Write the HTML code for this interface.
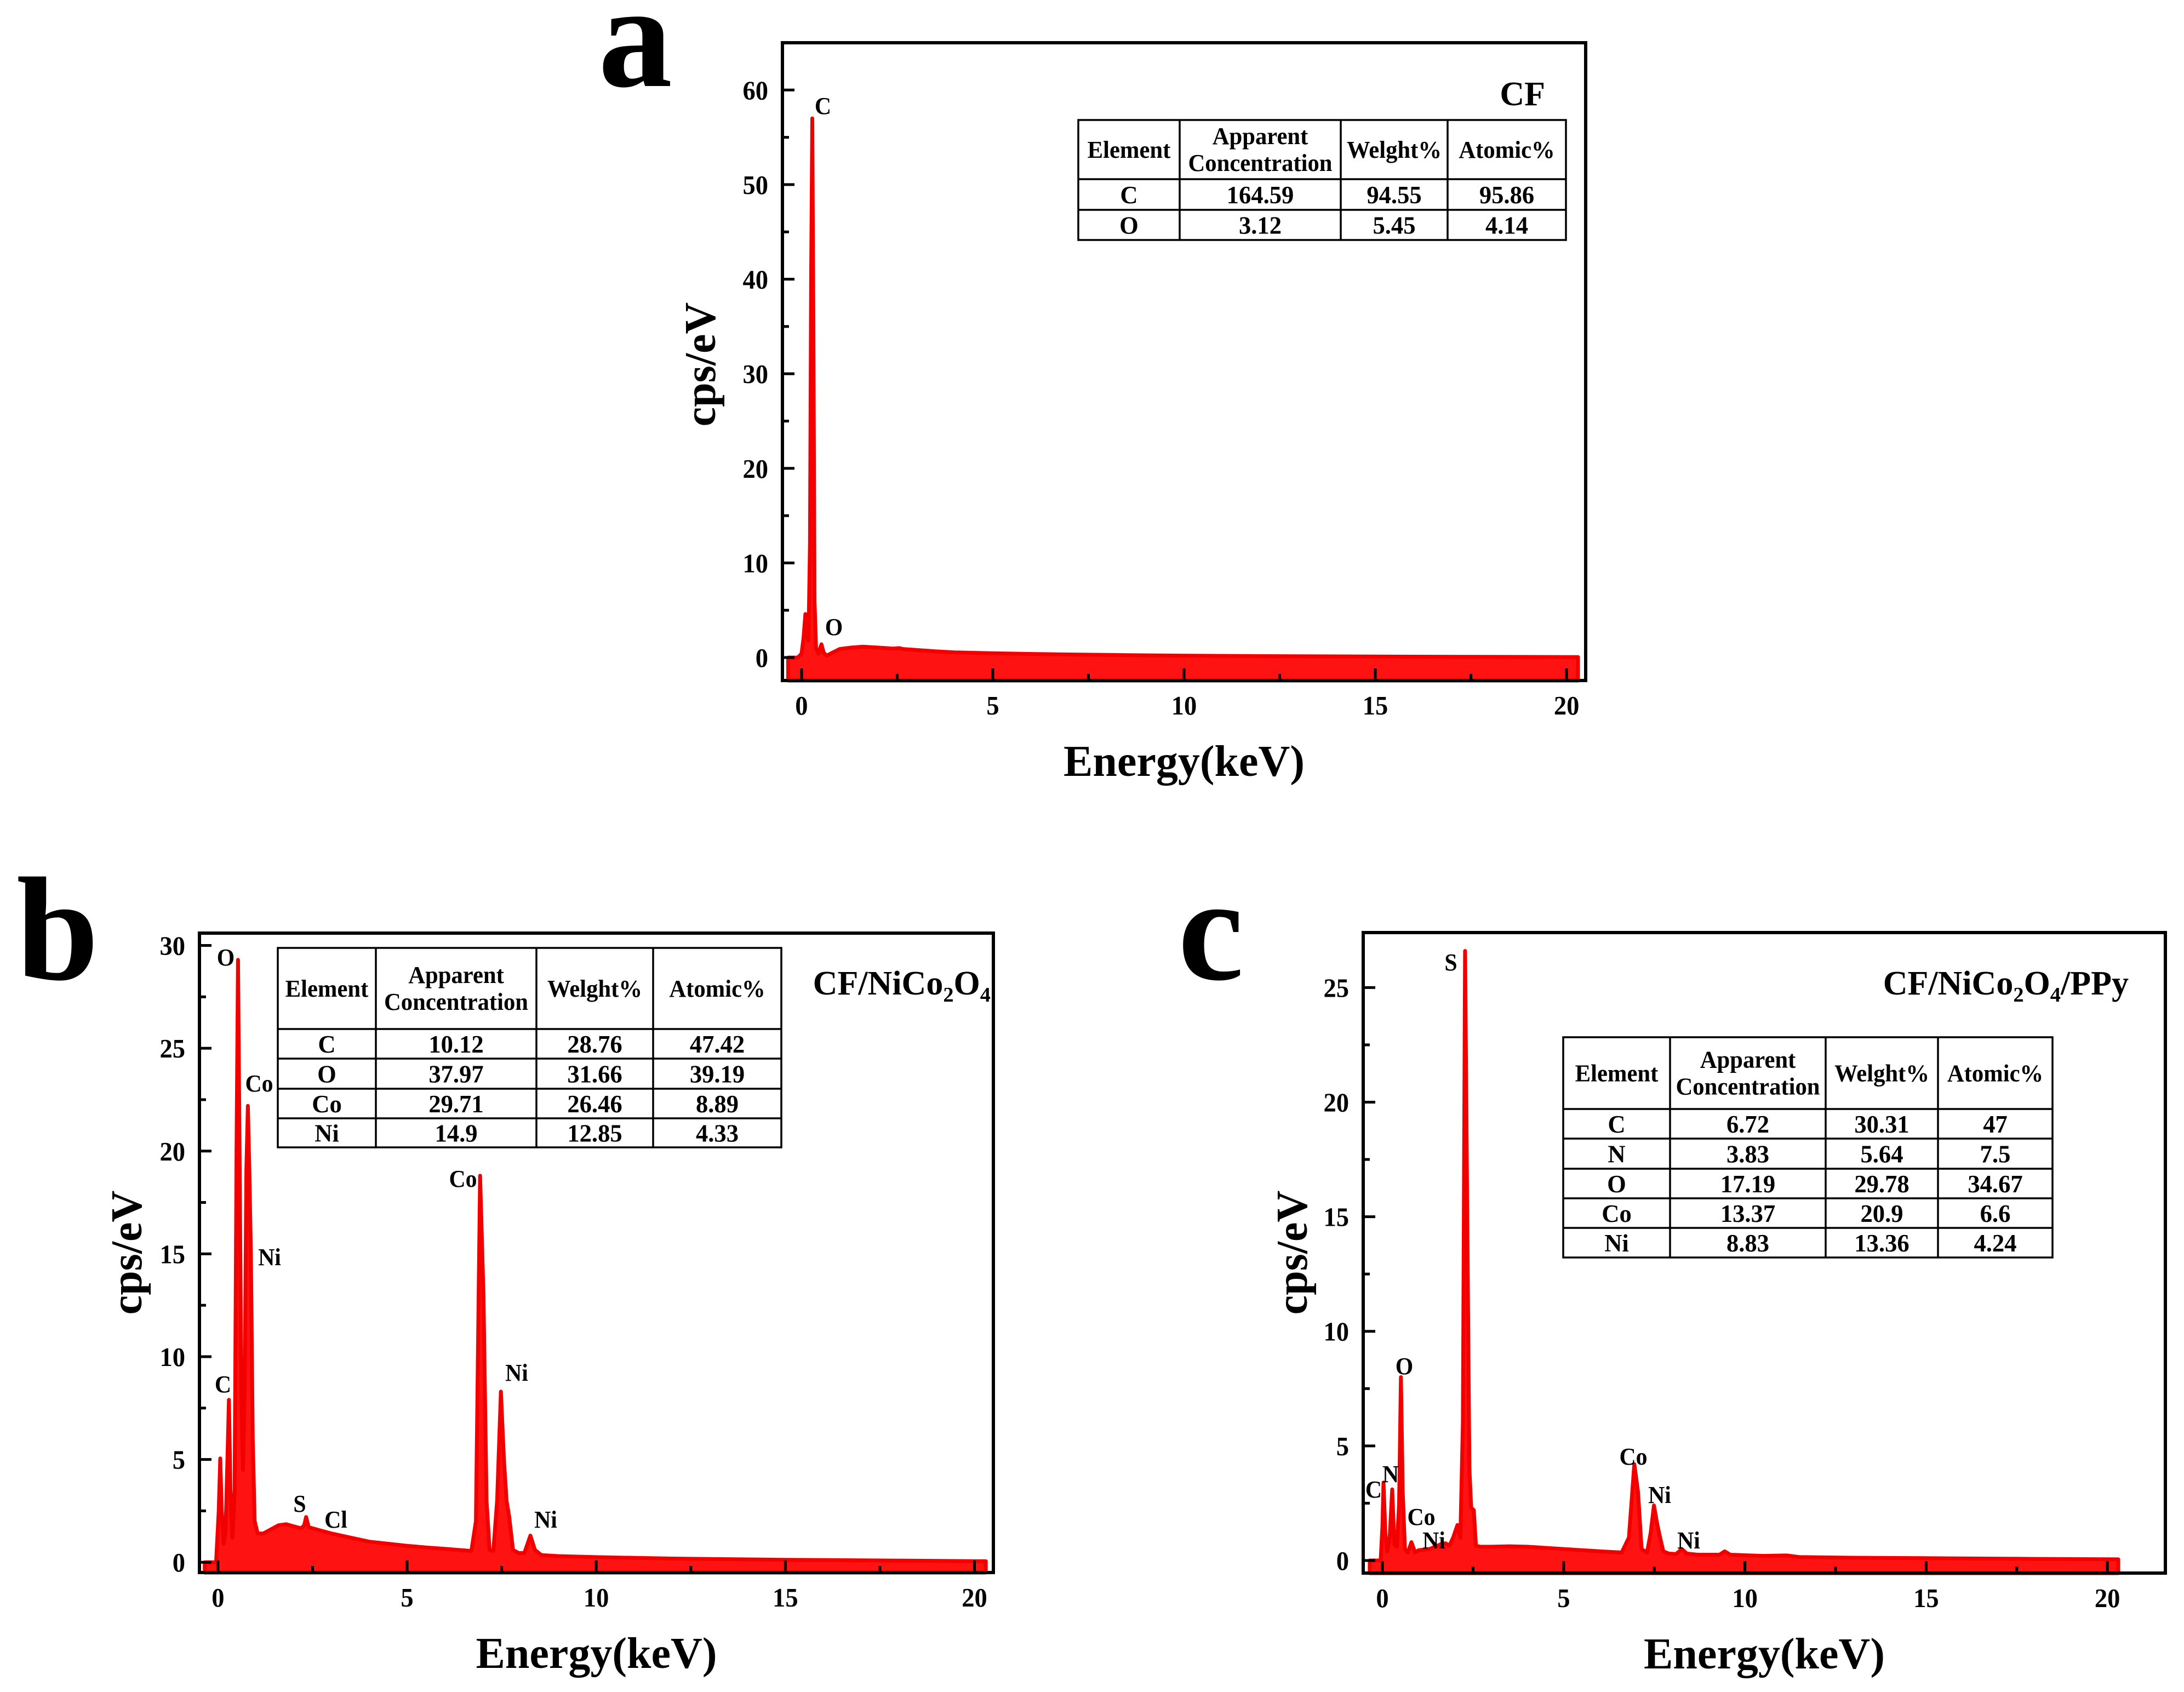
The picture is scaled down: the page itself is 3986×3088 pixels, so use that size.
<!DOCTYPE html>
<html><head><meta charset="utf-8"><title>EDS spectra</title>
<style>
html,body{margin:0;padding:0;background:#fff;}
svg{display:block;}
text{font-family:"Liberation Serif","Times New Roman",serif;font-weight:bold;fill:#000;}
</style></head>
<body>
<svg id="fig" xmlns="http://www.w3.org/2000/svg" width="3986" height="3088" viewBox="0 0 3986 3088"></svg>
<script>
// ---------- Panel a data (CF) ----------
const aEnergy = [-0.35,-0.1,0.0,0.05,0.1,0.14,0.18,0.22,0.25,0.28,0.31,0.34,0.38,0.44,0.52,0.58,0.66,0.8,1.0,1.3,1.6,2.0,2.4,2.55,2.65,3.0,3.5,4.0,5.0,6.0,7.0,8.5,10.0,12.0,15.0,17.5,20.3];
const aCounts = [0,0,0.4,2.0,4.6,2.2,1.8,12,40,57,35,6,1.0,0.4,1.4,0.5,0.2,0.5,0.9,1.05,1.15,1.05,0.95,1.0,0.9,0.8,0.65,0.55,0.45,0.38,0.32,0.25,0.2,0.15,0.1,0.07,0.05];
const aYTicks = [0,10,20,30,40,50,60];
const aXTicks = [0,5,10,15,20];
const aTableHead = ["Element","Apparent|Concentration","Welght%","Atomic%"];
const aTableRows = [["C","164.59","94.55","95.86"],["O","3.12","5.45","4.14"]];

// ---------- Panel b data (CF/NiCo2O4) ----------
const bEnergy = [-0.35,-0.05,0.02,0.06,0.1,0.15,0.2,0.25,0.29,0.33,0.38,0.44,0.49,0.53,0.57,0.62,0.66,0.71,0.75,0.79,0.83,0.87,0.92,0.97,1.05,1.2,1.4,1.6,1.8,2.0,2.2,2.28,2.33,2.4,2.5,2.7,3.0,3.5,4.0,4.5,5.0,5.5,6.0,6.5,6.7,6.82,6.93,7.02,7.1,7.18,7.28,7.38,7.48,7.56,7.63,7.7,7.8,7.95,8.1,8.26,8.38,8.55,9.0,10.0,12.0,15.0,18.0,20.3];
const bCounts = [0,0,2.5,5.05,2.5,0.9,1.5,5,7.9,3.5,1.2,3.5,20,29.3,20,8,4.5,9,19,22.2,19,15,6,2.0,1.4,1.4,1.6,1.8,1.85,1.75,1.65,1.8,2.2,1.7,1.65,1.55,1.4,1.2,1.0,0.9,0.8,0.72,0.65,0.58,0.55,2.0,18.8,13,3,0.6,0.55,3,8.3,5,3,2.2,0.6,0.45,0.45,1.3,0.6,0.35,0.3,0.25,0.18,0.12,0.08,0.05];
const bYTicks = [0,5,10,15,20,25,30];
const bXTicks = [0,5,10,15,20];
const bTableHead = ["Element","Apparent|Concentration","Welght%","Atomic%"];
const bTableRows = [["C","10.12","28.76","47.42"],["O","37.97","31.66","39.19"],["Co","29.71","26.46","8.89"],["Ni","14.9","12.85","4.33"]];

// ---------- Panel c data (CF/NiCo2O4/PPy) ----------
const cEnergy = [-0.35,-0.05,0.0,0.03,0.08,0.13,0.2,0.27,0.33,0.4,0.46,0.51,0.56,0.62,0.7,0.8,0.9,1.0,1.3,1.6,1.74,1.85,1.95,2.07,2.15,2.22,2.28,2.34,2.4,2.45,2.52,2.58,2.7,3.0,3.5,4.0,5.0,6.0,6.6,6.8,6.95,7.05,7.15,7.3,7.4,7.49,7.58,7.66,7.75,7.9,8.1,8.26,8.4,8.7,9.3,9.44,9.6,10.5,11.16,11.5,13.0,15.0,18.0,20.3];
const cCounts = [0,0,1.5,3.4,1.2,0.4,1.0,3.1,0.7,0.6,2.5,8.0,3.0,0.5,0.35,0.8,0.35,0.45,0.5,0.7,0.75,0.65,1.0,1.55,1.0,6,26.6,15,4,2.3,2.2,0.65,0.6,0.6,0.62,0.6,0.5,0.4,0.35,1.0,4.2,3.0,0.5,0.35,1.2,2.4,1.6,1.0,0.4,0.3,0.28,0.5,0.3,0.25,0.25,0.4,0.25,0.2,0.22,0.15,0.12,0.1,0.07,0.05];
const cYTicks = [0,5,10,15,20,25];
const cXTicks = [0,5,10,15,20];
const cTableHead = ["Element","Apparent|Concentration","Welght%","Atomic%"];
const cTableRows = [["C","6.72","30.31","47"],["N","3.83","5.64","7.5"],["O","17.19","29.78","34.67"],["Co","13.37","20.9","6.6"],["Ni","8.83","13.36","4.24"]];

const NS = "http://www.w3.org/2000/svg";
const svg = document.getElementById('fig');

function mk(tag, attrs, parent) {
  const e = document.createElementNS(NS, tag);
  for (const k in attrs) e.setAttribute(k, attrs[k]);
  (parent || svg).appendChild(e);
  return e;
}
function txt(str, x, y, size, anchor, parent, sx) {
  const g = mk('g', {transform: 'translate(' + x + ',' + y + ') scale(' + (sx || 1) + ',1)'}, parent);
  const t = mk('text', {x: 0, y: 0, 'font-size': size, 'text-anchor': anchor || 'middle'}, g);
  t.textContent = str;
  return t;
}

function drawPanel(P) {
  const g = mk('g', {});
  
  
  const X = v => P.L + (v - P.xmin) / (P.xmax - P.xmin) * (P.R - P.L);
  const Y = v => P.B - (v - P.ymin) / (P.ymax - P.ymin) * (P.B - P.T);

  let d = 'M' + X(P.energy[0]).toFixed(1) + ',' + P.B;
  for (let i = 0; i < P.energy.length; i++) d += ' L' + X(P.energy[i]).toFixed(1) + ',' + Y(P.counts[i]).toFixed(1);
  d += ' L' + X(P.energy[P.energy.length - 1]).toFixed(1) + ',' + P.B + ' Z';
  const area = mk('path', {d: d, fill: '#ff1212', stroke: '#f20000', 'stroke-width': 7, 'stroke-linejoin': 'round'}, g);
  
  

  const tk = mk('g', {stroke: '#000', 'stroke-width': 5}, g);
  
  
  P.yticks.forEach(v => {
    mk('line', {x1: P.L, x2: P.L + 22, y1: Y(v), y2: Y(v)}, tk);
    const m = v + (P.yticks[1] - P.yticks[0]) / 2;
    if (m < P.ymax) mk('line', {x1: P.L, x2: P.L + 12, y1: Y(m), y2: Y(m)}, tk);
  });
  P.xticks.forEach(v => {
    mk('line', {x1: X(v), x2: X(v), y1: P.B, y2: P.B - 22}, tk);
    const m = v + (P.xticks[1] - P.xticks[0]) / 2;
    if (m < P.xmax) mk('line', {x1: X(m), x2: X(m), y1: P.B, y2: P.B - 12}, tk);
  });

  const fr = mk('rect', {x: P.L, y: P.T, width: P.R - P.L, height: P.B - P.T, fill: 'none', stroke: '#000', 'stroke-width': 6}, g);
  
  

  P.yticks.forEach(v => {
    const t = txt(String(v), P.L - 26, Y(v) + 17, 49, 'end', g, 0.95);
    
    
  });
  P.xticks.forEach(v => {
    const t = txt(String(v), X(v), P.B + 62, 49, 'middle', g, 0.95);
    
    
  });

  const xt = txt('Energy(keV)', (P.L + P.R) / 2, P.B + 174, 80, 'middle', g, 1.0);
  
  
  const yg = mk('g', {transform: 'translate(' + P.ytx + ',' + P.yty + ') rotate(-90)'}, g);
  const yt = mk('text', {x: 0, y: 0, 'font-size': 80, 'text-anchor': 'middle'}, yg);
  yt.textContent = 'cps/eV';
  
  

  const pl = txt(P.letter, P.lx, P.ly, 270, 'start', g, 1);
  
  

  const st = mk('text', {x: P.tx, y: P.ty, 'font-size': P.tsize, 'text-anchor': 'end'}, g);
  
  
  P.title.forEach(part => {
    const s = mk('tspan', part[1] ? {'font-size': P.tsize * 0.62, dy: 13} : {dy: part[2] || 0}, st);
    s.textContent = part[0];
  });

  P.peaks.forEach(pk => {
    const t = txt(pk[0], pk[1], pk[2] + 15, 44, 'middle', g, 0.95);
    
    
  });

  const tb = mk('g', {}, g);
  
  
  const cx = P.tcols, ry = P.trows;
  mk('rect', {x: cx[0], y: ry[0], width: cx[cx.length - 1] - cx[0], height: ry[ry.length - 1] - ry[0], fill: '#fff', stroke: '#000', 'stroke-width': 3.5}, tb);
  for (let i = 1; i < cx.length - 1; i++) mk('line', {x1: cx[i], x2: cx[i], y1: ry[0], y2: ry[ry.length - 1], stroke: '#000', 'stroke-width': 3.5}, tb);
  for (let j = 1; j < ry.length - 1; j++) mk('line', {x1: cx[0], x2: cx[cx.length - 1], y1: ry[j], y2: ry[j], stroke: '#000', 'stroke-width': 3.5}, tb);
  P.head.forEach((h, i) => {
    const mx = (cx[i] + cx[i + 1]) / 2, my = (ry[0] + ry[1]) / 2;
    const parts = h.split('|');
    if (parts.length === 1) {
      const t = txt(parts[0], mx, my + 15, 44, 'middle', tb, 0.97);
      
      
    } else {
      const t1 = txt(parts[0], mx, my - 10, 44, 'middle', tb, 0.97);
      
      
      const t2 = txt(parts[1], mx, my + 39, 44, 'middle', tb, 0.97);
      
      
    }
  });
  P.rows.forEach((r, j) => {
    r.forEach((c, i) => {
      const t = txt(c, (cx[i] + cx[i + 1]) / 2, (ry[j + 1] + ry[j + 2]) / 2 + 16, 46, 'middle', tb, 0.97);
      
      
    });
  });
}

drawPanel({name: 'cf', L: 1428, R: 2894, T: 78, B: 1242, xmin: -0.5, xmax: 20.5, ymin: -2.43, ymax: 65.0,
  energy: aEnergy, counts: aCounts, yticks: aYTicks, xticks: aXTicks,
  ytx: 1305, yty: 665, letter: 'a', lx: 1092, ly: 157,
  title: [['CF']], tx: 2820, ty: 192, tsize: 62,
  peaks: [['C', 1502, 193], ['O', 1522, 1144]],
  tcols: [1968, 2153, 2447, 2642, 2858], trows: [219, 327, 383, 438],
  head: aTableHead, rows: aTableRows});

drawPanel({name: 'cf-nico2o4', L: 364, R: 1813, T: 1703, B: 2870, xmin: -0.49, xmax: 20.5, ymin: -0.5, ymax: 30.6,
  energy: bEnergy, counts: bCounts, yticks: bYTicks, xticks: bXTicks,
  ytx: 258, yty: 2286, letter: 'b', lx: 30, ly: 1787,
  title: [['CF/NiCo'], ['2', true], ['O', false, -13], ['4', true]], tx: 1808, ty: 1815, tsize: 62,
  peaks: [['O', 412, 1747], ['Co', 473, 1977], ['Ni', 492, 2294], ['C', 407, 2526], ['S', 547, 2744], ['Cl', 613, 2773], ['Co', 845, 2151], ['Ni', 943, 2505], ['Ni', 996, 2773]],
  tcols: [507, 686, 979, 1192, 1426], trows: [1730, 1878, 1932, 1987, 2041, 2094],
  head: bTableHead, rows: bTableRows});

drawPanel({name: 'cf-nico2o4-ppy', L: 2488, R: 3952, T: 1702, B: 2871, xmin: -0.53, xmax: 21.6, ymin: -0.55, ymax: 27.4,
  energy: cEnergy, counts: cCounts, yticks: cYTicks, xticks: cXTicks,
  ytx: 2385, yty: 2286, letter: 'c', lx: 2150, ly: 1787,
  title: [['CF/NiCo'], ['2', true], ['O', false, -13], ['4', true], ['/PPy', false, -13]], tx: 3885, ty: 1815, tsize: 62,
  peaks: [['S', 2648, 1756], ['O', 2563, 2493], ['C', 2507, 2718], ['N', 2538, 2690], ['Co', 2594, 2768], ['Ni', 2617, 2811], ['Co', 2981, 2658], ['Ni', 3029, 2728], ['Ni', 3082, 2811]],
  tcols: [2853, 3048, 3332, 3537, 3746], trows: [1893, 2024, 2078, 2133, 2187, 2241, 2295],
  head: cTableHead, rows: cTableRows});
</script>
</body></html>
